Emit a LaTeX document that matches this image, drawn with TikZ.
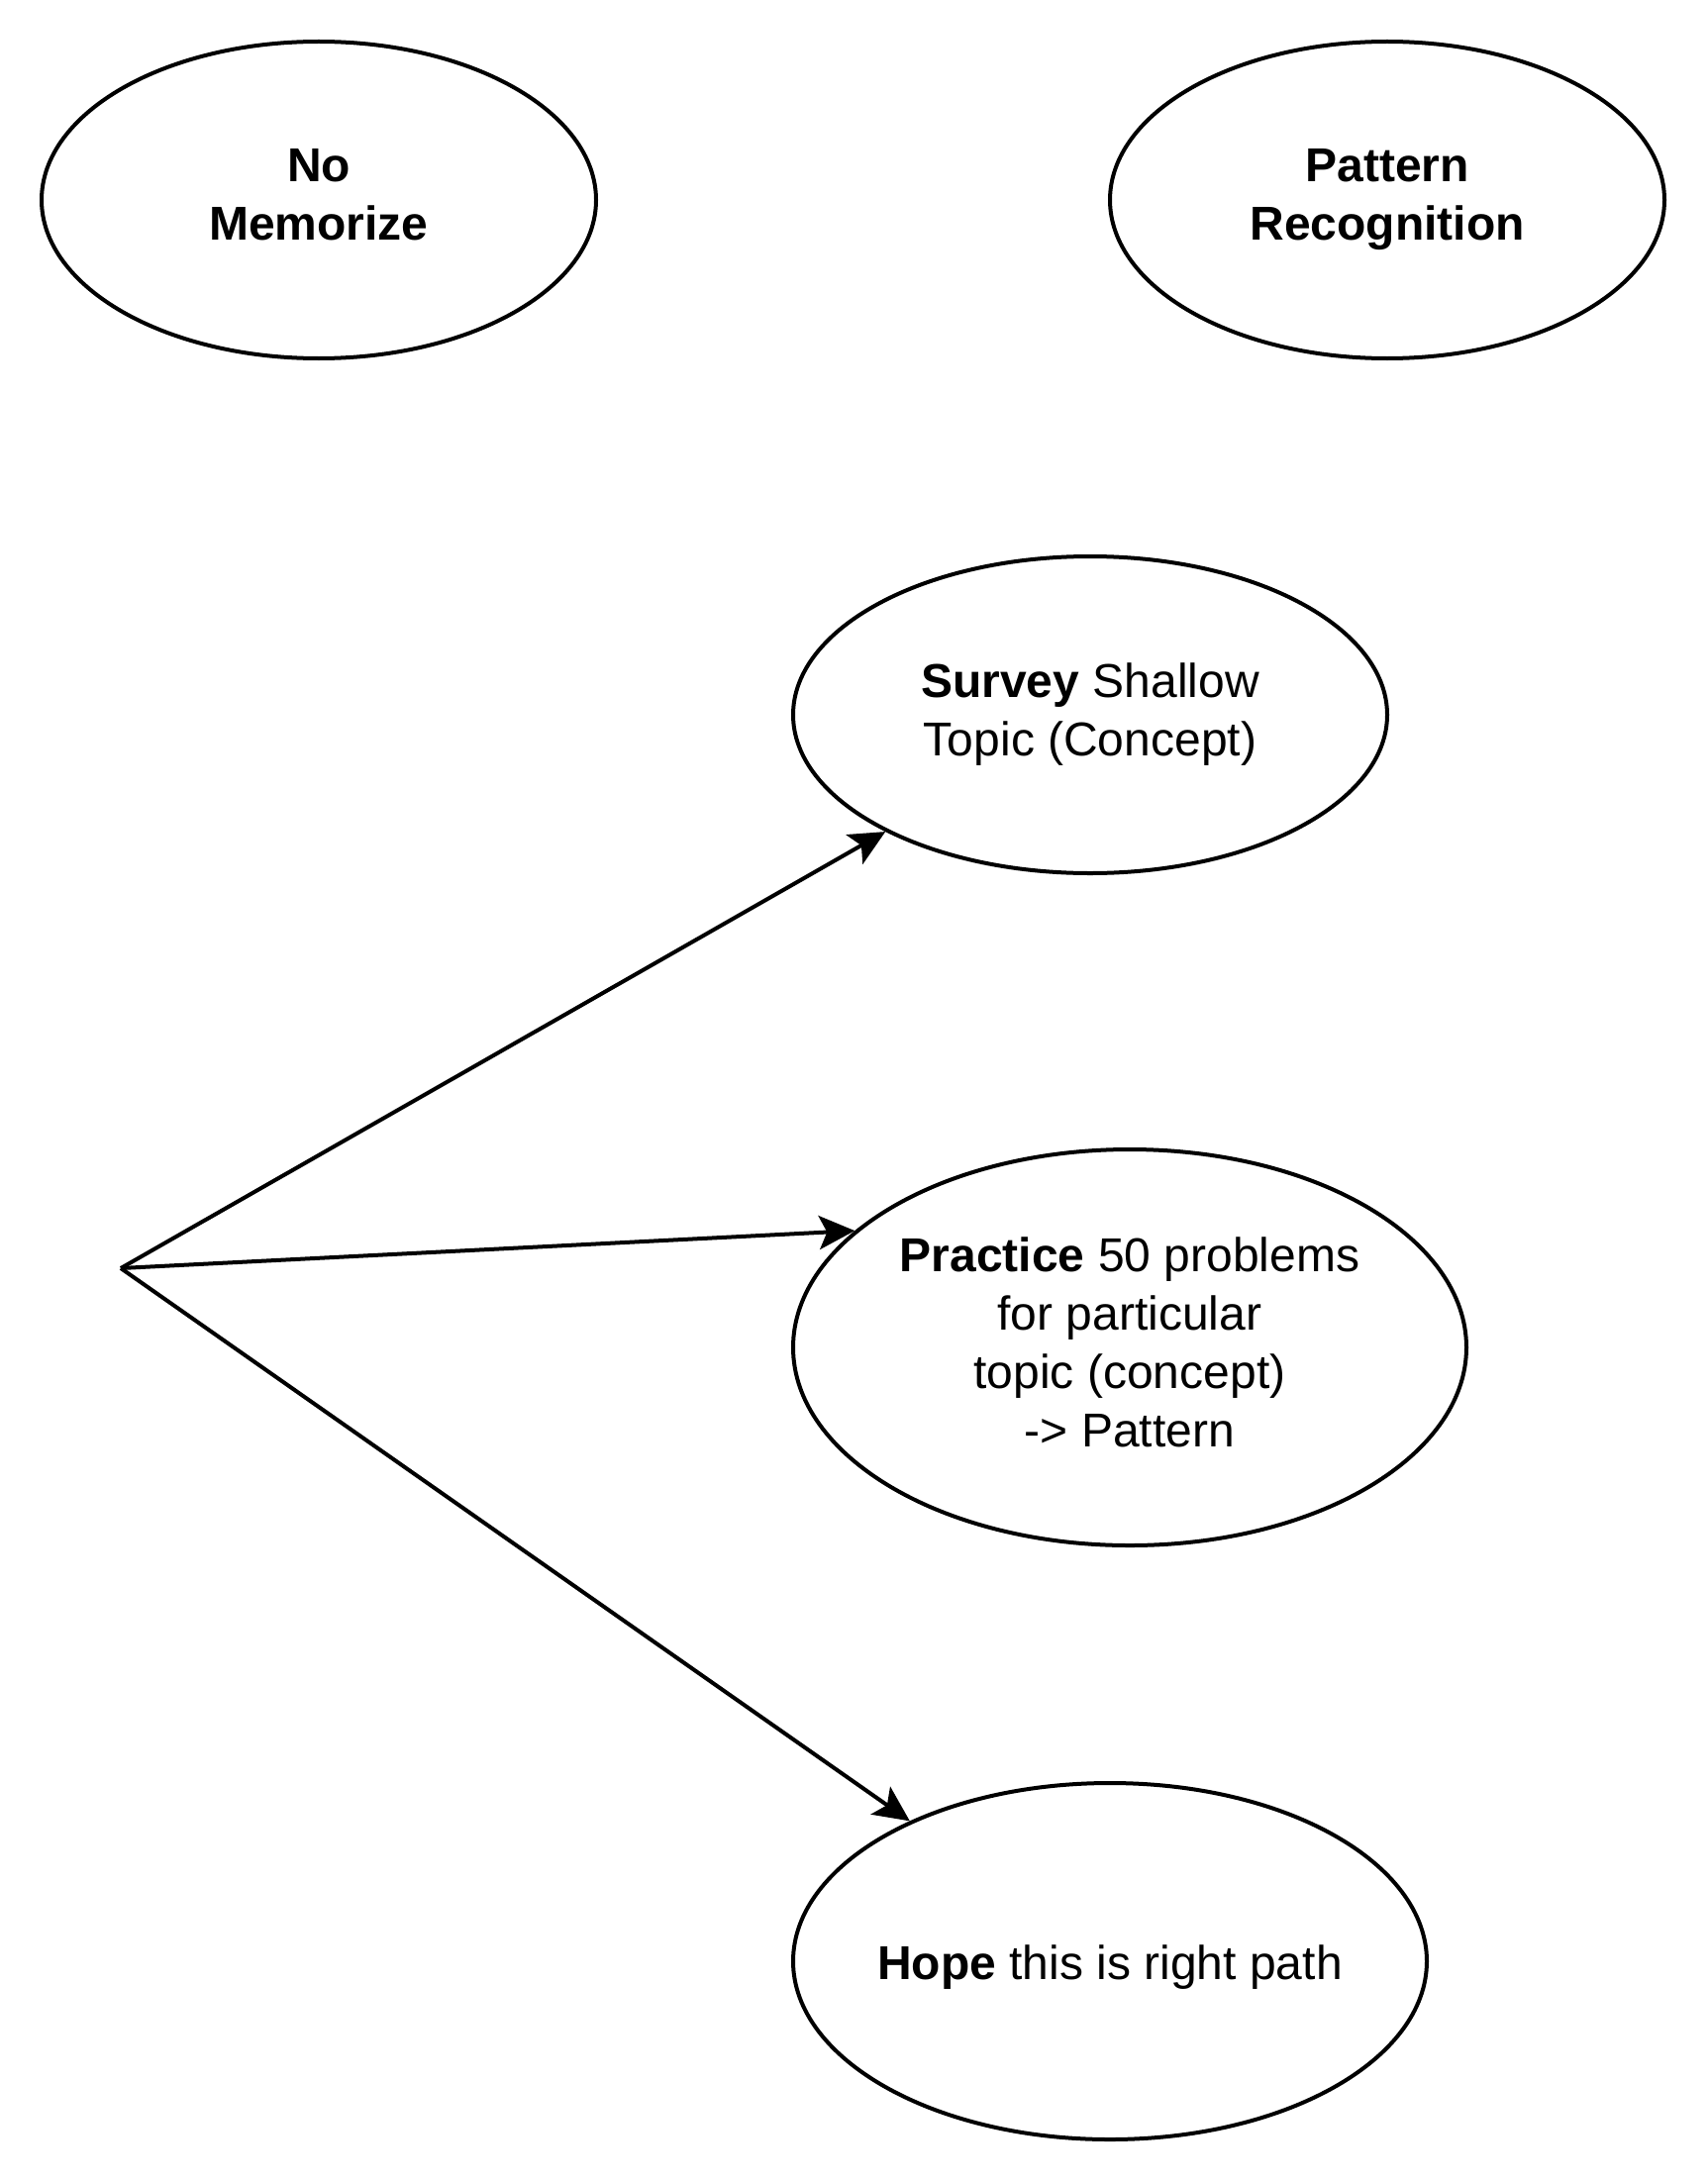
\documentclass[tikz,border=0pt]{standalone}
\usepackage{fontspec}
\setmainfont{Liberation Sans}
\usepackage{tikz}
\usetikzlibrary{shapes.geometric,arrows.meta,positioning}
\newcommand\linestrut{\rule[-2.8pt]{0pt}{15pt}}

\begin{document}
\begin{tikzpicture}[
  x=0.25pt, y=-0.25pt,
  line width=1pt,
  font=\fontsize{12pt}{14.8pt}\selectfont,
  myellipse/.style 2 args={
    draw,
    ellipse,
    inner sep=0pt,
    minimum width=#1,
    minimum height=#2,
    align=center,
    execute at begin node=\linestrut,
    execute at end node=\linestrut
    },
  manylines/.style={execute at begin node=\rule{0pt}{14.8pt}},
  myarrow/.style={-{Stealth[length=9pt,width=8.5pt,inset=2pt]}}
]
\useasboundingbox (0,0) rectangle (1724,2204);

\node[myellipse={140pt}{80pt}, manylines] (nomem) at (322,202) {\textbf{No}\\\textbf{Memorize}};
\node[myellipse={140pt}{80pt}, manylines] (pattern) at (1401,202) {\textbf{Pattern}\\\textbf{Recognition}};

\node[myellipse={150pt}{80pt}, manylines] (survey) at (1101,722)
  {\textbf{Survey} Shallow\\Topic (Concept)};
\node[myellipse={170pt}{100pt}, manylines, inner ysep=-4pt] (practice) at (1141,1361)
  {\textbf{Practice} 50 problems\\for particular\\topic (concept)\\-> Pattern};
\node[myellipse={160pt}{90pt}, inner xsep=-10pt] (hope) at (1121,1981)
  {\textbf{Hope} this is right path};

\coordinate (src) at (122,1281);

\draw[myarrow] (src) -- (survey);
\draw[myarrow] (src) -- (practice.157);
\draw[myarrow] (src) -- (hope);
\end{tikzpicture}
\end{document}
